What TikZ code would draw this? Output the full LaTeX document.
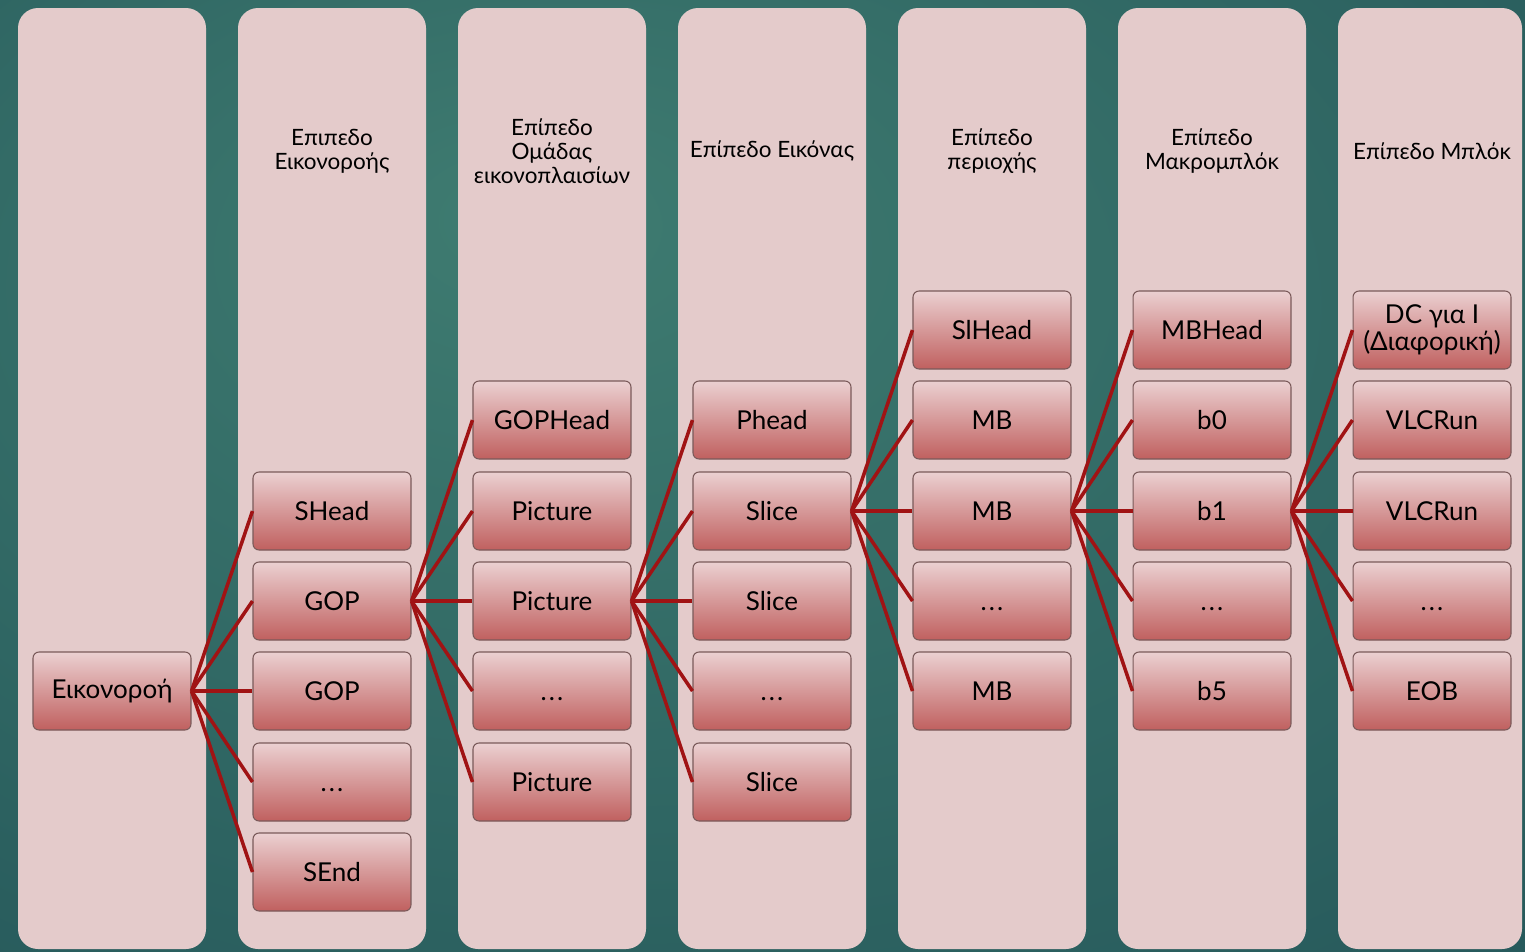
\documentclass[tikz,border=0pt]{standalone}
\usepackage{fontspec}
\setmainfont{Lato}
\definecolor{bglight}{HTML}{3F7C71}
\definecolor{bgmid}{HTML}{2D6361}
\definecolor{bgdark}{HTML}{1A4550}
\definecolor{colpink}{HTML}{E4CBCB}
\definecolor{boxtop}{HTML}{EBD0D1}
\definecolor{boxbot}{HTML}{C0605F}
\definecolor{boxedge}{HTML}{7A5A5A}
\definecolor{linkred}{HTML}{A01314}
\pgfdeclareradialshading{bgglow}{\pgfpoint{-8bp}{14bp}}{color(0bp)=(bglight); color(30bp)=(bgmid); color(65bp)=(bgdark)}
\newcommand{\dotsrow}{\vphantom{GOP}.\kern1.2pt.\kern1.2pt.}
\tikzset{
  level/.style={fill=colpink, rounded corners=0.4cm},
  box/.style={draw=boxedge, line width=0.6pt, rounded corners=0.12cm,
    top color=boxtop, bottom color=boxbot, minimum width=3.16cm,
    minimum height=1.56cm, inner sep=2pt, align=center,
    font=\fontsize{14.8}{15.5}\selectfont},
  head/.style={align=center, font=\fontsize{12.8}{13.6}\selectfont},
  link/.style={draw=linkred, line width=2pt}
}
\begin{document}
\begin{tikzpicture}[x=0.02cm,y=-0.02cm]
\useasboundingbox (0,0) rectangle (1525,951);
\shade[shading=bgglow] (0,0) rectangle (1525,951);
% levels
\fill[level] (18,8) rectangle (206,949);
\fill[level] (238,8) rectangle (426,949);
\fill[level] (458,8) rectangle (646,949);
\fill[level] (678,8) rectangle (866,949);
\fill[level] (898,8) rectangle (1086,949);
\fill[level] (1118,8) rectangle (1306,949);
\fill[level] (1338,8) rectangle (1522,949);
\node[head] (hseq) at (332,151) {Επιπεδο\\Εικονοροής};
\node[head] (hgop) at (552,151) {Επίπεδο\\Ομάδας\\εικονοπλαισίων};
\node[head] (hpic) at (772,151) {Επίπεδο Εικόνας};
\node[head] (hslice) at (992,151) {Επίπεδο\\περιοχής};
\node[head] (hmb) at (1212,151) {Επίπεδο\\Μακρομπλόκ};
\node[head] (hblk) at (1432,151) {Επίπεδο Μπλόκ};
% sequence
\node[box] (seq) at (112,691) {Εικονοροή};
% sequence level
\node[box] (shead) at (332,511) {SHead};
\node[box] (gopa) at (332,601) {GOP};
\node[box] (gopb) at (332,691) {GOP};
\node[box] (sdots) at (332,782) {\dotsrow};
\node[box] (send) at (332,872) {SEnd};
% gop level
\node[box] (gophead) at (552,420) {GOPHead};
\node[box] (pica) at (552,511) {Picture};
\node[box] (picb) at (552,601) {Picture};
\node[box] (picdots) at (552,691) {\dotsrow};
\node[box] (picc) at (552,782) {Picture};
% picture level
\node[box] (phead) at (772,420) {Phead};
\node[box] (slicea) at (772,511) {Slice};
\node[box] (sliceb) at (772,601) {Slice};
\node[box] (slicedots) at (772,691) {\dotsrow};
\node[box] (slicec) at (772,782) {Slice};
% slice level
\node[box] (slhead) at (992,330) {SlHead};
\node[box] (mba) at (992,420) {MB};
\node[box] (mbb) at (992,511) {MB};
\node[box] (mbdots) at (992,601) {\dotsrow};
\node[box] (mbc) at (992,691) {MB};
% macroblock level
\node[box] (mbhead) at (1212,330) {MBHead};
\node[box] (bzero) at (1212,420) {b0};
\node[box] (bone) at (1212,511) {b1};
\node[box] (bdots) at (1212,601) {\dotsrow};
\node[box] (bfive) at (1212,691) {b5};
% block level
\node[box] (dc) at (1432,330) {DC για I\\(Διαφορική)};
\node[box] (vlca) at (1432,420) {VLCRun};
\node[box] (vlcb) at (1432,511) {VLCRun};
\node[box] (blkdots) at (1432,601) {\dotsrow};
\node[box] (eob) at (1432,691) {EOB};
% links
\draw[link] (seq.east) -- (shead.west);
\draw[link] (seq.east) -- (gopa.west);
\draw[link] (seq.east) -- (gopb.west);
\draw[link] (seq.east) -- (sdots.west);
\draw[link] (seq.east) -- (send.west);
\draw[link] (gopa.east) -- (gophead.west);
\draw[link] (gopa.east) -- (pica.west);
\draw[link] (gopa.east) -- (picb.west);
\draw[link] (gopa.east) -- (picdots.west);
\draw[link] (gopa.east) -- (picc.west);
\draw[link] (picb.east) -- (phead.west);
\draw[link] (picb.east) -- (slicea.west);
\draw[link] (picb.east) -- (sliceb.west);
\draw[link] (picb.east) -- (slicedots.west);
\draw[link] (picb.east) -- (slicec.west);
\draw[link] (slicea.east) -- (slhead.west);
\draw[link] (slicea.east) -- (mba.west);
\draw[link] (slicea.east) -- (mbb.west);
\draw[link] (slicea.east) -- (mbdots.west);
\draw[link] (slicea.east) -- (mbc.west);
\draw[link] (mbb.east) -- (mbhead.west);
\draw[link] (mbb.east) -- (bzero.west);
\draw[link] (mbb.east) -- (bone.west);
\draw[link] (mbb.east) -- (bdots.west);
\draw[link] (mbb.east) -- (bfive.west);
\draw[link] (bone.east) -- (dc.west);
\draw[link] (bone.east) -- (vlca.west);
\draw[link] (bone.east) -- (vlcb.west);
\draw[link] (bone.east) -- (blkdots.west);
\draw[link] (bone.east) -- (eob.west);
\end{tikzpicture}
\end{document}
